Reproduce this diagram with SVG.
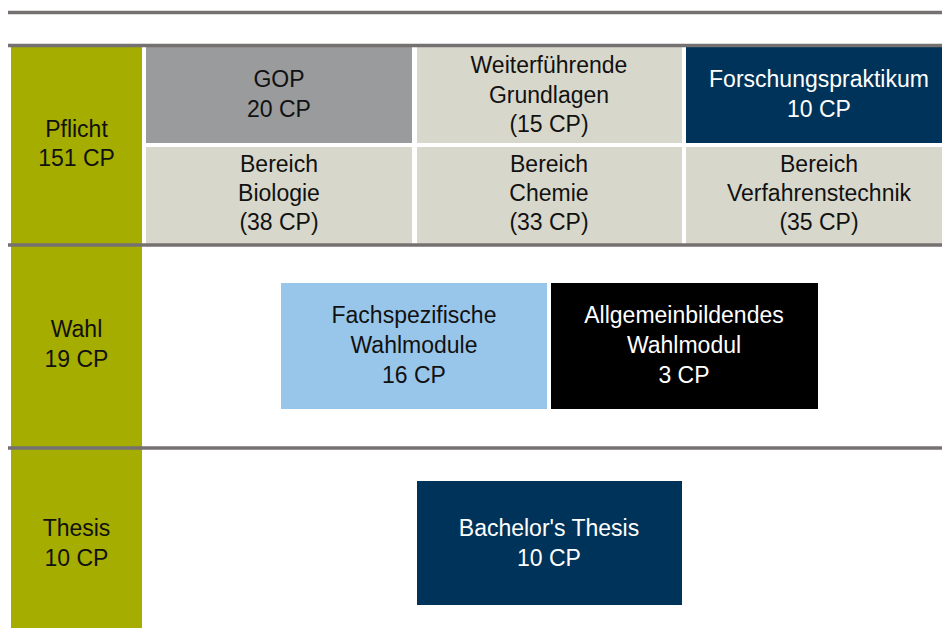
<svg xmlns="http://www.w3.org/2000/svg" width="942" height="628" viewBox="0 0 942 628">
<style>
text{font-family:"Liberation Sans",Arial,sans-serif;font-size:23px;text-anchor:middle;fill:#111}
.w{fill:#fff}
.olive{fill:#A5AD00}
.beige{fill:#D7D8CB}
.navy{fill:#003359}
.rule{stroke:#767171;stroke-width:3.5}
</style>
<rect width="942" height="628" fill="#fff"/>
<g id="col-pflicht"><rect class="olive" x="11" y="47" width="131" height="197"/><text x="76.5" y="137">Pflicht</text><text x="76.5" y="166">151 CP</text></g>
<g id="col-wahl"><rect class="olive" x="11" y="244" width="131" height="204"/><text x="76.5" y="337">Wahl</text><text x="76.5" y="367">19 CP</text></g>
<g id="col-thesis"><rect class="olive" x="11" y="448" width="131" height="180"/><text x="76.5" y="536">Thesis</text><text x="76.5" y="566">10 CP</text></g>
<g id="gop"><rect x="146" y="47" width="266" height="96" fill="#9A9B9D"/><text x="279" y="87">GOP</text><text x="279" y="117">20 CP</text></g>
<g id="weiterf"><rect class="beige" x="417" y="47" width="265" height="96"/><text x="549" y="73">Weiterführende</text><text x="549" y="103">Grundlagen</text><text x="549" y="132">(15 CP)</text></g>
<g id="forschung"><rect class="navy" x="686" y="47" width="256" height="96"/><text class="w" x="819" y="87">Forschungspraktikum</text><text class="w" x="819" y="117">10 CP</text></g>
<g id="biologie"><rect class="beige" x="146" y="147" width="266" height="97"/><text x="279" y="172">Bereich</text><text x="279" y="201">Biologie</text><text x="279" y="230">(38 CP)</text></g>
<g id="chemie"><rect class="beige" x="417" y="147" width="265" height="97"/><text x="549" y="172">Bereich</text><text x="549" y="201">Chemie</text><text x="549" y="230">(33 CP)</text></g>
<g id="verfahren"><rect class="beige" x="686" y="147" width="256" height="97"/><text x="819" y="172">Bereich</text><text x="819" y="201">Verfahrenstechnik</text><text x="819" y="230">(35 CP)</text></g>
<g id="fachspez"><rect x="281" y="283" width="266" height="126" fill="#98C6EA"/><text x="414" y="323">Fachspezifische</text><text x="414" y="353">Wahlmodule</text><text x="414" y="383">16 CP</text></g>
<g id="allgemein"><rect x="551" y="283" width="267" height="126" fill="#000"/><text class="w" x="684" y="323">Allgemeinbildendes</text><text class="w" x="684" y="353">Wahlmodul</text><text class="w" x="684" y="383">3 CP</text></g>
<g id="bachelor"><rect class="navy" x="417" y="481" width="265" height="124"/><text class="w" x="549" y="536">Bachelor's Thesis</text><text class="w" x="549" y="566">10 CP</text></g>
<g id="connectors">
<line class="rule" x1="8" y1="12.5" x2="942" y2="12.5"/>
<line class="rule" x1="8" y1="45.5" x2="942" y2="45.5"/>
<line class="rule" x1="8" y1="245" x2="942" y2="245"/>
<line class="rule" x1="8" y1="448" x2="942" y2="448"/>
</g>
</svg>
